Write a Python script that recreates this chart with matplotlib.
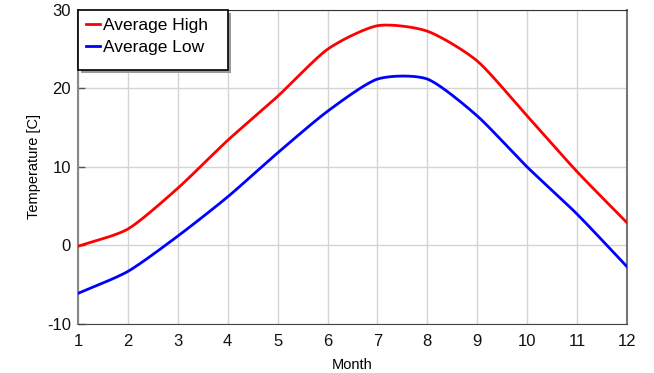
import numpy as np
import matplotlib
matplotlib.use("Agg")
import matplotlib.pyplot as plt
from matplotlib.patches import Rectangle

months = [1, 2, 3, 4, 5, 6, 7, 8, 9, 10, 11, 12]
avg_high = [-0.1, 2.1, 7.3, 13.4, 19.0, 25.0, 28.0, 27.3, 23.5, 16.5, 9.4, 2.9]
avg_low = [-6.1, -3.3, 1.2, 6.2, 11.8, 17.1, 21.2, 21.2, 16.5, 10.0, 4.0, -2.7]
xticks = list(range(1, 13))
yticks = [-10, 0, 10, 20, 30]
ytick_labels = ['-10', '0', '10', '20', '30']


def smooth(x, y, n=20, t=0.5):
    # Catmull-Rom style rendering of the line through the data points
    x = np.asarray(x, float); y = np.asarray(y, float)
    px = np.concatenate([[2 * x[0] - x[1]], x, [2 * x[-1] - x[-2]]])
    py = np.concatenate([[2 * y[0] - y[1]], y, [2 * y[-1] - y[-2]]])
    xs, ys = [], []
    for i in range(1, len(px) - 2):
        s = np.linspace(0, 1, n, endpoint=False)
        m1x = t * (px[i + 1] - px[i - 1]); m2x = t * (px[i + 2] - px[i])
        m1y = t * (py[i + 1] - py[i - 1]); m2y = t * (py[i + 2] - py[i])
        h00 = 2 * s**3 - 3 * s**2 + 1; h10 = s**3 - 2 * s**2 + s
        h01 = -2 * s**3 + 3 * s**2; h11 = s**3 - s**2
        xs.append(h00 * px[i] + h10 * m1x + h01 * px[i + 1] + h11 * m2x)
        ys.append(h00 * py[i] + h10 * m1y + h01 * py[i + 1] + h11 * m2y)
    xs.append([x[-1]]); ys.append([y[-1]])
    return np.concatenate(xs), np.concatenate(ys)


plt.rcParams['font.family'] = ['Liberation Sans', 'DejaVu Sans']
fig = plt.figure(figsize=(6.54, 3.73), dpi=100)
ax = fig.add_axes([0.1193, 0.1314, 0.8394, 0.8418])

hx, hy = smooth(months, avg_high, t=0.35)
lx, ly = smooth(months, avg_low, t=0.35)
ax.plot(hx, hy, color='#ff0000', lw=2, label='Average High', zorder=3)
ax.plot(lx, ly, color='#0000ff', lw=2, label='Average Low', zorder=3)

ax.set_xlim(1, 12)
ax.set_ylim(-10, 30)
ax.set_xticks(xticks)
ax.set_yticks(yticks)
ax.set_yticklabels(ytick_labels)
ax.grid(True, color='#d4d4d4', lw=1)
ax.set_axisbelow(True)
ax.spines['top'].set_color('#333333')
ax.spines['right'].set_color('#777777')
ax.spines['right'].set_linewidth(1.5)
ax.spines['left'].set_color('#888888')
ax.spines['left'].set_linewidth(1.5)
ax.spines['bottom'].set_color('#444444')
ax.tick_params(axis='y', direction='in', length=5, width=1, color='#555555', pad=5)
ax.tick_params(axis='x', length=0, pad=7)
for lab in ax.get_xticklabels() + ax.get_yticklabels():
    lab.set_fontsize(12)
    lab.set_color('#111111')
ax.set_xlabel('Month', fontsize=10.5)
ax.set_ylabel('Temperature [C]', fontsize=10.5)
ax.xaxis.set_label_coords(0.5, -0.108)
ax.yaxis.set_label_coords(-0.067, 0.5)

# legend box with shadow
bw, bh = 150 / 549, 60 / 314
shadow = Rectangle((3 / 549, 1 - bh - 3 / 314), bw, bh, transform=ax.transAxes,
                   facecolor='#9a9a9a', edgecolor='none', zorder=4, clip_on=False)
box = Rectangle((0, 1 - bh), bw, bh, transform=ax.transAxes, facecolor='white',
                edgecolor='#000000', lw=1.2, zorder=5, clip_on=False)
ax.add_patch(shadow)
ax.add_patch(box)
leg = ax.legend(loc='upper left', bbox_to_anchor=(0.0, 1.0), fontsize=12.5,
                frameon=False, handlelength=0.8, handletextpad=0.2,
                borderpad=0.4, labelspacing=0.4, borderaxespad=0.05)
leg.set_zorder(6)

fig.savefig('out.png', dpi=100)
